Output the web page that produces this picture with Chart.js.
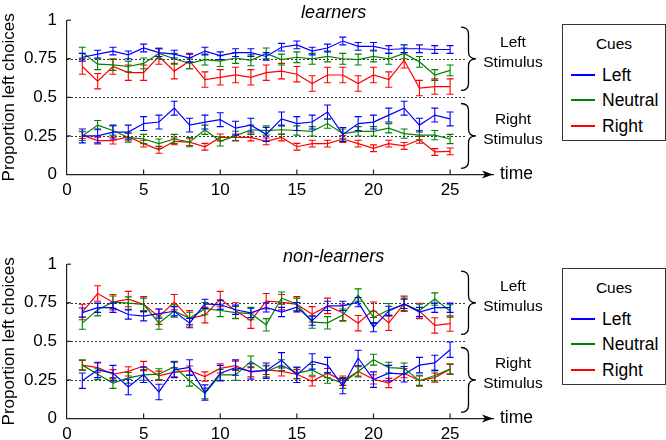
<!DOCTYPE html>
<html>
<head>
<meta charset="utf-8">
<script src="https://cdn.jsdelivr.net/npm/chart.js@4.4.1/dist/chart.umd.min.js"></script>
<style>
  body { margin: 0; width: 666px; height: 440px; overflow: hidden; position: relative; background: #fff;
         font-family: "Liberation Sans", Arial, sans-serif; }
  .plot { position: absolute; left: 0; }
  .legend { position: absolute; left: 562px; width: 104px; height: 117px; box-sizing: border-box;
            border: 1px solid #333; background: #fff; }
  .legend .lt { position: absolute; left: 0; right: 0; top: 10px; text-align: center; font-size: 15.5px; line-height: 18px; }
  .legend .le { position: absolute; left: 39px; font-size: 17.5px; line-height: 20px; }
  .legend .sw { position: absolute; left: -31px; top: 9px; width: 24px; height: 2px; }
</style>
</head>
<body>
<canvas id="learners" class="plot" width="666" height="200" style="top:0"></canvas>
<canvas id="nonLearners" class="plot" width="666" height="200" style="top:244px"></canvas>
<div id="legendTop" class="legend" style="top:24px"></div>
<div id="legendBottom" class="legend" style="top:268px"></div>

<script>
const FONT = '"Liberation Sans", Arial, sans-serif';

const times = [1, 2, 3, 4, 5, 6, 7, 8, 9, 10, 11, 12, 13, 14, 15, 16, 17, 18, 19, 20, 21, 22, 23, 24, 25];
const cueNames = ["Left", "Neutral", "Right"];
const cueColors = ["#0000ff", "#008000", "#ff0000"];
const xTicks = [0, 5, 10, 15, 20, 25];
const yTicks = [0, 0.25, 0.5, 0.75, 1];
const yTickLabels = ["0", "0.25", "0.5", "0.75", "1"];
const refLines = [0.25, 0.5, 0.75];
const stimLabels = [["Left", "Stimulus"], ["Right", "Stimulus"]];

// learners, left stimulus (cue: left / neutral / right)
const lrnLeftBlue  = [0.76, 0.78, 0.80, 0.775, 0.82, 0.79, 0.78, 0.755, 0.80, 0.77, 0.79, 0.79, 0.765, 0.825, 0.84, 0.80, 0.82, 0.865, 0.83, 0.83, 0.81, 0.815, 0.815, 0.81, 0.81];
const lrnLeftGreen = [0.79, 0.715, 0.71, 0.70, 0.72, 0.785, 0.75, 0.72, 0.745, 0.735, 0.755, 0.74, 0.785, 0.745, 0.76, 0.75, 0.765, 0.75, 0.745, 0.765, 0.75, 0.785, 0.73, 0.645, 0.675];
const lrnLeftRed   = [0.70, 0.605, 0.70, 0.66, 0.66, 0.765, 0.67, 0.735, 0.615, 0.63, 0.645, 0.63, 0.66, 0.67, 0.65, 0.59, 0.645, 0.645, 0.59, 0.645, 0.615, 0.74, 0.56, 0.57, 0.57];
// learners, right stimulus
const lrnRightBlue  = [0.25, 0.25, 0.275, 0.275, 0.33, 0.34, 0.43, 0.32, 0.34, 0.355, 0.30, 0.32, 0.26, 0.36, 0.33, 0.34, 0.405, 0.26, 0.33, 0.34, 0.385, 0.43, 0.32, 0.385, 0.36];
const lrnRightGreen = [0.25, 0.32, 0.285, 0.24, 0.23, 0.20, 0.23, 0.21, 0.29, 0.215, 0.25, 0.29, 0.285, 0.29, 0.285, 0.28, 0.33, 0.265, 0.28, 0.28, 0.30, 0.265, 0.255, 0.255, 0.23];
const lrnRightRed   = [0.255, 0.22, 0.22, 0.245, 0.20, 0.16, 0.215, 0.21, 0.18, 0.24, 0.24, 0.24, 0.215, 0.24, 0.18, 0.20, 0.20, 0.23, 0.20, 0.17, 0.20, 0.185, 0.225, 0.146, 0.15];
// non-learners, left stimulus
const nonLeftBlue  = [0.686, 0.718, 0.718, 0.674, 0.663, 0.68, 0.695, 0.618, 0.743, 0.737, 0.705, 0.685, 0.72, 0.69, 0.722, 0.634, 0.73, 0.73, 0.754, 0.592, 0.697, 0.743, 0.69, 0.718, 0.718];
const nonLeftGreen = [0.618, 0.705, 0.754, 0.748, 0.74, 0.618, 0.697, 0.649, 0.712, 0.70, 0.686, 0.68, 0.607, 0.78, 0.74, 0.625, 0.62, 0.67, 0.80, 0.655, 0.705, 0.74, 0.70, 0.774, 0.697];
const nonLeftRed   = [0.69, 0.81, 0.754, 0.774, 0.74, 0.66, 0.754, 0.649, 0.67, 0.774, 0.70, 0.634, 0.76, 0.754, 0.74, 0.675, 0.73, 0.685, 0.618, 0.705, 0.62, 0.743, 0.697, 0.603, 0.615];
// non-learners, right stimulus
const nonRightBlue  = [0.245, 0.315, 0.294, 0.204, 0.283, 0.172, 0.315, 0.331, 0.168, 0.294, 0.33, 0.305, 0.31, 0.377, 0.283, 0.37, 0.346, 0.21, 0.392, 0.252, 0.294, 0.287, 0.346, 0.36, 0.446];
const nonRightGreen = [0.346, 0.287, 0.23, 0.263, 0.283, 0.287, 0.335, 0.245, 0.162, 0.283, 0.283, 0.37, 0.305, 0.346, 0.294, 0.315, 0.263, 0.23, 0.305, 0.381, 0.33, 0.325, 0.245, 0.279, 0.32];
const nonRightRed   = [0.346, 0.33, 0.287, 0.305, 0.34, 0.277, 0.30, 0.31, 0.272, 0.325, 0.342, 0.30, 0.315, 0.305, 0.287, 0.241, 0.294, 0.245, 0.305, 0.254, 0.23, 0.294, 0.245, 0.265, 0.32];

// error bar half widths per cue (left, neutral, right)
const lrnLeftErr = [0.025, 0.035, 0.05];
const lrnRightErr = [0.045, 0.03, 0.022];
const nonLeftErr = [0.03, 0.04, 0.05];
const nonRightErr = [0.05, 0.035, 0.03];

function makeDatasets(groups) {
  const out = [];
  groups.forEach(g => {
    g.series.forEach((vals, i) => {
      out.push({
        data: times.map((t, j) => ({ x: t, y: vals[j] })),
        borderColor: cueColors[i],
        err: g.err[i]
      });
    });
  });
  return out;
}

function drawBrace(ctx, x0, yT, yB) {
  const xm = x0 + 7.5, x1 = x0 + 15, ym = (yT + yB) / 2, r = 7;
  ctx.beginPath();
  ctx.moveTo(x0, yT);
  ctx.quadraticCurveTo(xm, yT, xm, yT + r);
  ctx.lineTo(xm, ym - r);
  ctx.quadraticCurveTo(xm, ym, x1, ym);
  ctx.quadraticCurveTo(xm, ym, xm, ym + r);
  ctx.lineTo(xm, yB - r);
  ctx.quadraticCurveTo(xm, yB, x0, yB);
  ctx.stroke();
}

const decor = {
  id: "decor",
  beforeDatasetsDraw(chart) {
    const { ctx, scales: { x, y } } = chart;
    ctx.save();
    ctx.strokeStyle = "#333";
    ctx.lineWidth = 1;
    ctx.setLineDash([2, 2]);
    refLines.forEach(v => {
      const py = Math.round(y.getPixelForValue(v)) + 0.5;
      ctx.beginPath();
      ctx.moveTo(x.getPixelForValue(0), py);
      ctx.lineTo(x.getPixelForValue(26.0), py);
      ctx.stroke();
    });
    ctx.restore();
  },
  afterDatasetDraw(chart, args) {
    const { ctx, scales: { y } } = chart;
    const ds = chart.data.datasets[args.index];
    ctx.save();
    ctx.strokeStyle = ds.borderColor;
    ctx.lineWidth = 1.1;
    args.meta.data.forEach((pt, j) => {
      const v = ds.data[j].y;
      const top = y.getPixelForValue(v + ds.err), bot = y.getPixelForValue(v - ds.err);
      ctx.beginPath();
      ctx.moveTo(pt.x, top); ctx.lineTo(pt.x, bot);
      ctx.moveTo(pt.x - 3.5, top); ctx.lineTo(pt.x + 3.5, top);
      ctx.moveTo(pt.x - 3.5, bot); ctx.lineTo(pt.x + 3.5, bot);
      ctx.stroke();
    });
    ctx.restore();
  },
  afterDraw(chart, args, opts) {
    const { ctx, chartArea: a, scales: { x, y } } = chart;
    ctx.save();
    ctx.strokeStyle = "#222";
    ctx.fillStyle = "#000";
    ctx.lineWidth = 1.2;
    // inward ticks
    yTicks.forEach(v => {
      if (v === 0) return;
      const py = y.getPixelForValue(v);
      ctx.beginPath(); ctx.moveTo(a.left, py); ctx.lineTo(a.left + 4, py); ctx.stroke();
    });
    xTicks.forEach(v => {
      if (v === 0) return;
      const px = x.getPixelForValue(v);
      ctx.beginPath(); ctx.moveTo(px, a.bottom); ctx.lineTo(px, a.bottom - 5); ctx.stroke();
    });
    // arrow head
    const by = a.bottom;
    ctx.beginPath();
    ctx.moveTo(a.right, by);
    ctx.lineTo(a.right - 11, by - 4);
    ctx.lineTo(a.right - 8, by);
    ctx.lineTo(a.right - 11, by + 4);
    ctx.closePath();
    ctx.fill();
    ctx.font = "17.5px " + FONT;
    ctx.textAlign = "left";
    ctx.textBaseline = "middle";
    ctx.fillText("time", a.right + 7, by);
    // braces
    ctx.strokeStyle = "#000";
    ctx.lineWidth = 1.3;
    drawBrace(ctx, 461, y.getPixelForValue(0.955), y.getPixelForValue(0.545));
    drawBrace(ctx, 461, y.getPixelForValue(0.46), y.getPixelForValue(0.04));
    ctx.font = "15.5px " + FONT;
    ctx.textAlign = "center";
    const mids = [y.getPixelForValue(0.75), y.getPixelForValue(0.25)];
    stimLabels.forEach((lines, k) => {
      ctx.fillText(lines[0], 513, mids[k] - 16);
      ctx.fillText(lines[1], 513, mids[k] + 4);
    });
    // panel title
    ctx.font = "italic 18px " + FONT;
    ctx.fillText(opts.title, x.getPixelForValue(17.4), a.top - 7);
    ctx.restore();
  }
};

function makeChart(id, title, groups) {
  return new Chart(document.getElementById(id), {
    type: "line",
    data: { datasets: makeDatasets(groups) },
    plugins: [decor],
    options: {
      responsive: false,
      animation: false,
      layout: { padding: { left: 0, top: 15, right: 173, bottom: 0 } },
      elements: { point: { radius: 0 }, line: { borderWidth: 1.2, tension: 0 } },
      plugins: { legend: { display: false }, tooltip: { enabled: false }, decor: { title } },
      scales: {
        x: {
          type: "linear", min: 0, max: 27.8,
          grid: { display: false, drawTicks: false },
          border: { display: true, color: "#222", width: 1.2 },
          ticks: { padding: 6, color: "#000", font: { family: FONT, size: 17 } },
          afterBuildTicks: s => { s.ticks = xTicks.map(v => ({ value: v })); },
          afterFit: s => { s.height = 25.5; }
        },
        y: {
          min: 0, max: 1,
          grid: { display: false, drawTicks: false },
          border: { display: true, color: "#222", width: 1.2 },
          ticks: { padding: 10, color: "#000", font: { family: FONT, size: 17 },
                   callback: v => yTickLabels[yTicks.indexOf(v)] },
          afterBuildTicks: s => { s.ticks = yTicks.map(v => ({ value: v })); },
          afterFit: s => { s.width = 67; },
          title: { display: true, text: "Proportion left choices", color: "#000", padding: 0,
                   font: { family: FONT, size: 17, lineHeight: 1.1 } }
        }
      }
    }
  });
}

makeChart("learners", "learners", [
  { series: [lrnLeftBlue, lrnLeftGreen, lrnLeftRed], err: lrnLeftErr },
  { series: [lrnRightBlue, lrnRightGreen, lrnRightRed], err: lrnRightErr }
]);
makeChart("nonLearners", "non-learners", [
  { series: [nonLeftBlue, nonLeftGreen, nonLeftRed], err: nonLeftErr },
  { series: [nonRightBlue, nonRightGreen, nonRightRed], err: nonRightErr }
]);

function renderLegend(id) {
  const box = document.getElementById(id);
  let html = '<div class="lt">Cues</div>';
  const tops = [40, 65, 91];
  cueNames.forEach((name, i) => {
    html += `<div class="le" style="top:${tops[i]}px"><span class="sw" style="background:${cueColors[i]}"></span>${name}</div>`;
  });
  box.innerHTML = html;
}
renderLegend("legendTop");
renderLegend("legendBottom");
</script>
</body>
</html>
